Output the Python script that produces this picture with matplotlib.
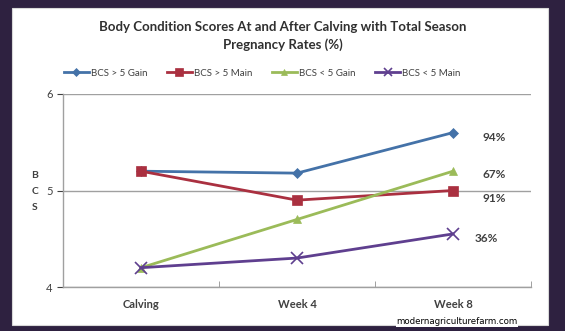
import numpy as np
import matplotlib.pyplot as plt
from matplotlib.patches import Rectangle

plt.rcParams['font.family'] = ['Lato', 'DejaVu Sans']

# data
categories = ['Calving', 'Week 4', 'Week 8']
series_names = ['BCS > 5 Gain', 'BCS > 5 Main', 'BCS < 5 Gain', 'BCS < 5 Main']
gain_hi = [5.2, 5.18, 5.6]
main_hi = [5.2, 4.9, 5.0]
gain_lo = [4.2, 4.7, 5.2]
main_lo = [4.2, 4.3, 4.55]
preg_rates = ['94%', '91%', '67%', '36%']

colors = ['#4472a8', '#aa3040', '#9bbb59', '#5f3f8f']
markers = ['D', 's', '^', 'x']
msizes = [5, 7, 6, 8]

fig = plt.figure(figsize=(5.65, 3.31), dpi=100)
fig.patch.set_facecolor('#2e2140')
# white slide panel
fig.patches.append(Rectangle((12/565, 1-325/331), 536/565, 317/331,
                             transform=fig.transFigure, facecolor='white',
                             edgecolor='#d8d8d8', lw=0.8, zorder=-5))

ax = fig.add_axes([63/565, 1-287/331, 468/565, 193/331])
ax.set_facecolor('none')
x = np.arange(len(categories))
all_series = [gain_hi, main_hi, gain_lo, main_lo]
for vals, name, c, m, ms in zip(all_series, series_names, colors, markers, msizes):
    ax.plot(x, vals, color=c, lw=2, marker=m, ms=ms, mew=1.2 if m == 'x' else 0.5,
            label=name, mfc=c, mec=c)

ax.set_xlim(-0.5, 2.5)
ax.set_ylim(4, 6)
ax.set_yticks([4, 5, 6])
ax.set_xticks(x)
ax.set_xticklabels(categories, fontsize=8, fontweight='bold', color='#404040')
ax.set_xticks([-0.5, 0.5, 1.5, 2.5], minor=True)
ax.tick_params(axis='x', which='major', length=0, pad=9)
ax.tick_params(axis='x', which='minor', length=4, color='#909090', direction='in')
ax.tick_params(axis='y', labelsize=8, colors='#404040', length=4, direction='out')
ax.yaxis.grid(True, color='#a0a0a0', lw=1)
ax.set_axisbelow(True)
for s in ['top', 'right']:
    ax.spines[s].set_visible(False)
ax.spines['left'].set_color('#a0a0a0')
ax.spines['bottom'].set_color('#a0a0a0')
ax.spines['left'].set_linewidth(1)
ax.spines['bottom'].set_linewidth(1)

# pregnancy rate labels at week 8
label_y = [5.55, 4.92, 5.17, 4.5]
label_x = [2.19, 2.19, 2.19, 2.14]
for lx, ly, t in zip(label_x, label_y, preg_rates):
    ax.text(lx, ly, t, fontsize=8.5, fontweight='bold', color='#404040',
            va='center', ha='left')

# stacked y label
for i, ch in enumerate('BCS'):
    fig.text(35/565, 1-(175 + i*16)/331, ch, fontsize=7.5, fontweight='bold',
             color='#404040', ha='center', va='center')

fig.text(0.5, 1-36/331, 'Body Condition Scores At and After Calving with Total Season\nPregnancy Rates (%)',
         ha='center', va='center', fontsize=9.5, fontweight='bold', color='#303030',
         linespacing=1.45)

fig.legend(loc='center', bbox_to_anchor=(262/565, 1-73/331), ncol=4, frameon=False,
           fontsize=7, handlelength=2.6, columnspacing=2.0, handletextpad=0.2,
           markerscale=0.8, labelcolor='#404040')

fig.text(457/565, 1-322/331, 'modernagriculturefarm.com', fontsize=6.2,
         family='DejaVu Sans', color='black', ha='center', va='center',
         bbox=dict(facecolor='white', edgecolor='none', pad=0.5))

fig.savefig('out.png', dpi=100, facecolor=fig.get_facecolor())
